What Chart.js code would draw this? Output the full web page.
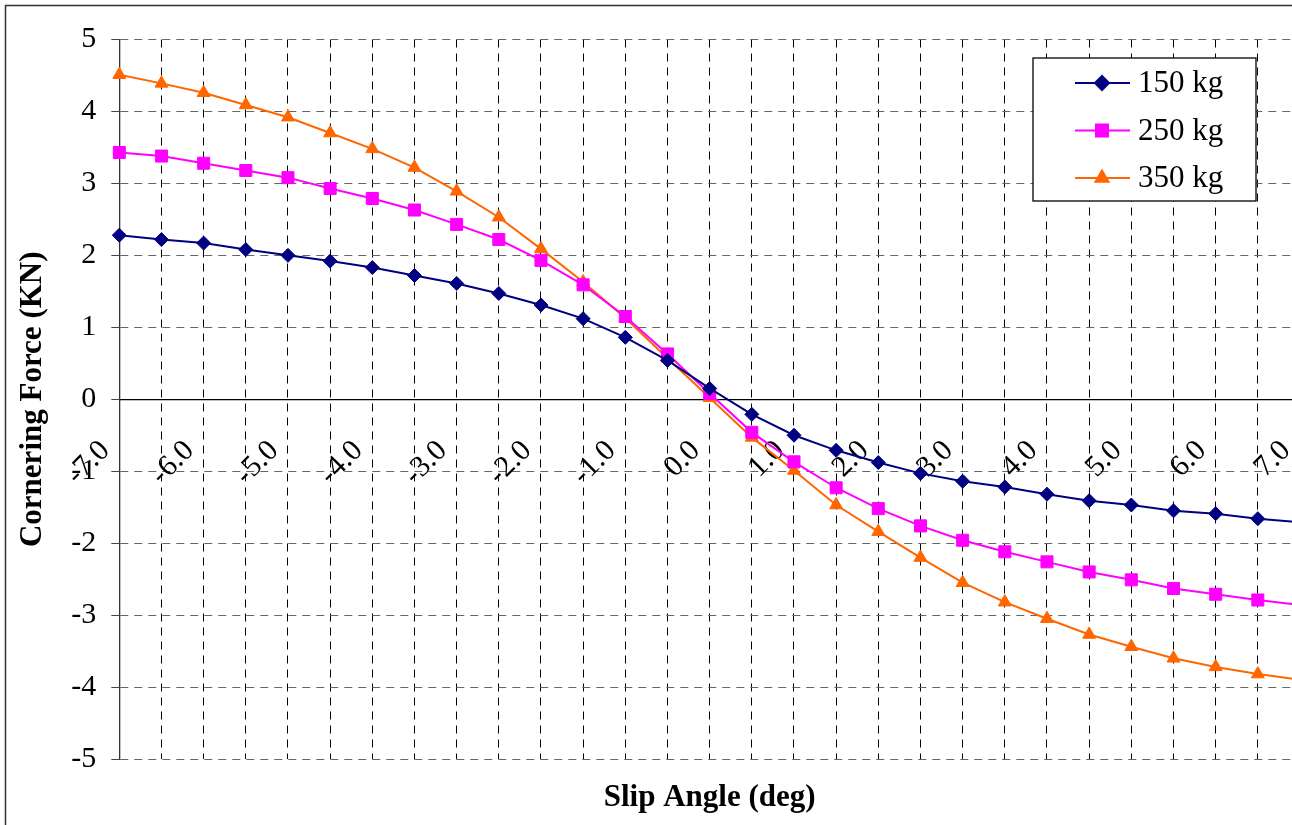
<!DOCTYPE html>
<html>
<head>
<meta charset="utf-8">
<title>Cornering Force vs Slip Angle</title>
<script src="https://cdn.jsdelivr.net/npm/chart.js@4.4.1/dist/chart.umd.min.js"></script>
<style>
  html, body { margin: 0; padding: 0; background: #fff; overflow: hidden; }
  #wrap { width: 1292px; height: 825px; overflow: hidden; position: relative; }
  canvas { display: block; }
</style>
</head>
<body>
<div id="wrap"><canvas id="forceChart" width="1310" height="825"></canvas></div>
<script>
// slip angle categories (deg), labelled every 1.0 deg
const slipAngles = ['-7.0', '-6.5', '-6.0', '-5.5', '-5.0', '-4.5', '-4.0', '-3.5', '-3.0', '-2.5',
                    '-2.0', '-1.5', '-1.0', '-0.5', '0.0', '0.5', '1.0', '1.5', '2.0', '2.5',
                    '3.0', '3.5', '4.0', '4.5', '5.0', '5.5', '6.0', '6.5', '7.0'];

// cornering force (kN) per wheel load
const force150 = [2.28, 2.22, 2.17, 2.08, 2.00, 1.92, 1.83, 1.72, 1.61, 1.47, 1.31, 1.12, 0.86, 0.54, 0.15,
                  -0.21, -0.50, -0.71, -0.88, -1.03, -1.14, -1.22, -1.32, -1.41, -1.47, -1.55, -1.59, -1.66, -1.71];
const force250 = [3.43, 3.38, 3.28, 3.18, 3.08, 2.93, 2.79, 2.63, 2.43, 2.22, 1.93, 1.59, 1.15, 0.63, 0.08,
                  -0.46, -0.87, -1.23, -1.52, -1.76, -1.96, -2.12, -2.26, -2.40, -2.51, -2.63, -2.71, -2.79, -2.86];
const force350 = [4.51, 4.39, 4.26, 4.09, 3.92, 3.70, 3.48, 3.22, 2.89, 2.53, 2.09, 1.63, 1.13, 0.57, 0.02,
                  -0.53, -0.99, -1.47, -1.84, -2.20, -2.55, -2.82, -3.05, -3.27, -3.44, -3.60, -3.72, -3.82, -3.90];

const yTicks = [-5, -4, -3, -2, -1, 0, 1, 2, 3, 4, 5];

const serif = '"Liberation Serif", "Times New Roman", serif';
Chart.defaults.font.family = serif;
Chart.defaults.color = '#000';

// white page with the outer frame line
const pageFrame = {
    id: 'pageFrame',
    beforeDraw(chart) {
        const {ctx, width, height} = chart;
        ctx.save();
        ctx.fillStyle = '#fff';
        ctx.fillRect(0, 0, width, height);
        ctx.strokeStyle = '#333';
        ctx.lineWidth = 1.5;
        ctx.strokeRect(5.5, 5.5, width + 20, height + 20);
        ctx.restore();
    }
};

// boxed legend in the top right corner (line + marker + label)
const boxedLegend = {
    id: 'boxedLegend',
    afterDraw(chart) {
        const {ctx} = chart;
        const left = 1033, top = 58, w = 223, h = 143;
        ctx.save();
        ctx.fillStyle = '#fff';
        ctx.fillRect(left, top, w, h);
        ctx.strokeStyle = '#000';
        ctx.lineWidth = 1.3;
        ctx.strokeRect(left, top, w, h);
        chart.data.datasets.forEach((ds, i) => {
            const y = 83 + i * 47.5;
            ctx.strokeStyle = ds.borderColor;
            ctx.lineWidth = ds.borderWidth;
            ctx.beginPath();
            ctx.moveTo(1075, y);
            ctx.lineTo(1130, y);
            ctx.stroke();
            ctx.fillStyle = ds.backgroundColor;
            Chart.helpers.drawPoint(ctx, {
                pointStyle: ds.pointStyle,
                radius: ds.pointRadius,
                borderWidth: ds.pointBorderWidth,
                rotation: 0
            }, 1102, y);
            ctx.fillStyle = '#000';
            ctx.font = '31px ' + serif;
            ctx.textAlign = 'left';
            ctx.textBaseline = 'middle';
            ctx.fillText(ds.label, 1138, y + 1);
        });
        ctx.restore();
    }
};

const ctx = document.getElementById('forceChart').getContext('2d');
const forceChart = new Chart(ctx, {
    type: 'line',
    data: {
        labels: slipAngles,
        datasets: [{
            label: '150 kg',
            data: force150,
            borderColor: '#000080',
            backgroundColor: '#000080',
            borderWidth: 2,
            pointStyle: 'rectRot',
            pointRadius: 7,
            pointBorderWidth: 1
        }, {
            label: '250 kg',
            data: force250,
            borderColor: '#ff00ff',
            backgroundColor: '#ff00ff',
            borderWidth: 2,
            pointStyle: 'rect',
            pointRadius: 8.5,
            pointBorderWidth: 1
        }, {
            label: '350 kg',
            data: force350,
            borderColor: '#ff6600',
            backgroundColor: '#ff6600',
            borderWidth: 2,
            pointStyle: 'triangle',
            pointRadius: 7.5,
            pointBorderWidth: 1
        }]
    },
    options: {
        responsive: false,
        animation: false,
        layout: { padding: { left: 0, top: 39.5, right: 10, bottom: 0 } },
        plugins: {
            legend: { display: false },
            tooltip: { enabled: false },
            title: {
                display: true,
                position: 'bottom',
                fullSize: false,
                text: 'Slip Angle (deg)',
                color: '#000',
                font: { size: 31, weight: 'bold' },
                padding: { top: 20.5, bottom: 8.3 }
            }
        },
        scales: {
            x: {
                position: { y: 0 },   // axis crosses at zero force
                offset: false,
                grid: { color: '#000', lineWidth: 1, drawTicks: false },
                border: { display: true, color: '#000', width: 1.3, dash: [8, 6] },
                ticks: {
                    autoSkip: false,
                    minRotation: 45,
                    maxRotation: 45,
                    padding: 34,
                    labelOffset: -14,
                    font: { size: 30 },
                    color: '#000',
                    callback: (v, i) => (i % 2 === 0 ? slipAngles[i] : '')
                },
                afterFit: s => { s.paddingLeft = 0; s.paddingRight = 0; }
            },
            y: {
                min: yTicks[0],
                max: yTicks[yTicks.length - 1],
                afterBuildTicks: s => { s.ticks = yTicks.map(v => ({ value: v })); },
                grid: {
                    color: c => (c.tick && c.tick.value === 0 ? 'rgba(0,0,0,0)' : '#666'),
                    lineWidth: 1,
                    tickLength: 8,
                    tickColor: '#444'
                },
                border: { display: true, color: '#333', width: 1.3, dash: [8, 6] },
                ticks: {
                    padding: 15,
                    font: { size: 30 },
                    color: '#000',
                    callback: v => String(v)
                },
                title: {
                    display: true,
                    text: 'Cornering Force (KN)',
                    color: '#000',
                    font: { size: 31, weight: 'bold' },
                    padding: { top: 14.4, bottom: 0 }
                },
                afterFit: s => { s.width = 119.3; }
            }
        }
    },
    plugins: [pageFrame, boxedLegend]
});
</script>
</body>
</html>
